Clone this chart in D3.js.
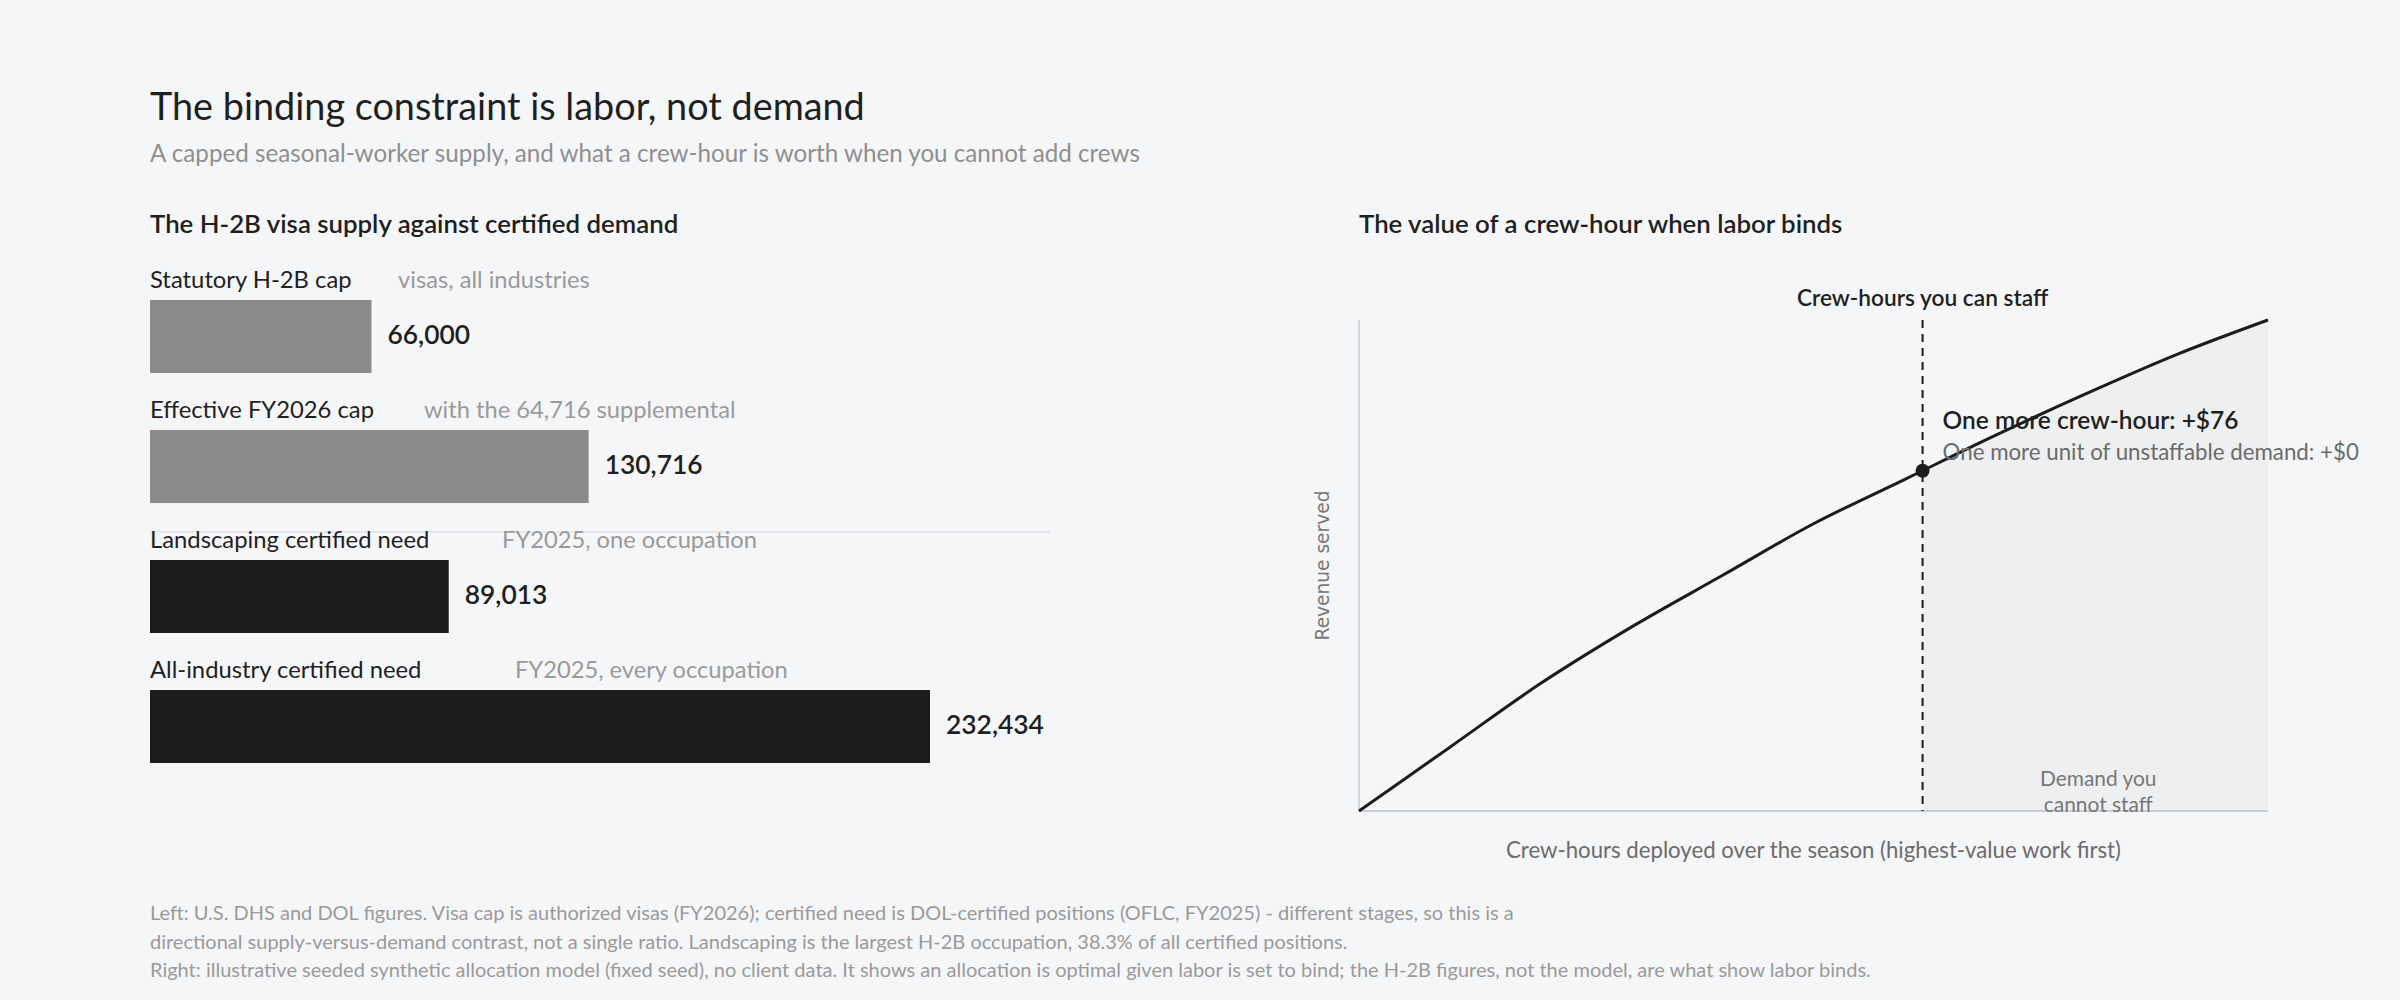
<!DOCTYPE html>
<html>
<head>
<meta charset="utf-8">
<script src="https://cdn.jsdelivr.net/npm/d3@7"></script>
<style>
  body { margin: 0; background: #f5f6f8; }
  svg { display: block; font-family: "Segoe UI", Lato, "Noto Sans", sans-serif; }
</style>
</head>
<body>
<svg></svg>
<script>
let width = 2400, height = 1000;

// Left panel: H-2B supply vs certified demand
const rowLabels = ["Statutory H-2B cap", "Effective FY2026 cap", "Landscaping certified need", "All-industry certified need"];
const rowNotes = ["visas, all industries", "with the 64,716 supplemental", "FY2025, one occupation", "FY2025, every occupation"];
const rowValues = [66000, 130716, 89013, 232434];
const rowKinds = ["supply", "supply", "demand", "demand"];

// Right panel: revenue curve (illustrative model), crew-hours as % of season demand
const crewHours = [0, 10, 20, 30, 40, 50, 60, 70, 80, 90, 100];
const revenue = [0, 0.13, 0.26, 0.375, 0.48, 0.585, 0.675, 0.765, 0.85, 0.93, 1.0];
const staffableHours = 62;
const marginalCrewHour = 76;
const marginalDemand = 0;

const footnotes = [
    "Left: U.S. DHS and DOL figures. Visa cap is authorized visas (FY2026); certified need is DOL-certified positions (OFLC, FY2025) - different stages, so this is a",
    "directional supply-versus-demand contrast, not a single ratio. Landscaping is the largest H-2B occupation, 38.3% of all certified positions.",
    "Right: illustrative seeded synthetic allocation model (fixed seed), no client data. It shows an allocation is optimal given labor is set to bind; the H-2B figures, not the model, are what show labor binds."
];

let svg = d3.select("svg")
    .attr("width", width)
    .attr("height", height);

svg.append("rect").attr("width", width).attr("height", height).attr("fill", "#f5f6f8");

// headings
svg.append("text").attr("x", 150).attr("y", 120)
    .text("The binding constraint is labor, not demand")
    .style("font-size", "37.8px").attr("fill", "#1f1f1f");
svg.append("text").attr("x", 150).attr("y", 162)
    .text("A capped seasonal-worker supply, and what a crew-hour is worth when you cannot add crews")
    .style("font-size", "24.2px").attr("fill", "#8f8f8f");

svg.append("text").attr("x", 150).attr("y", 233)
    .text("The H-2B visa supply against certified demand")
    .style("font-size", "25.8px").style("font-weight", 600).attr("fill", "#1f1f1f");
svg.append("text").attr("x", 1359).attr("y", 233)
    .text("The value of a crew-hour when labor binds")
    .style("font-size", "25.8px").style("font-weight", 600).attr("fill", "#1f1f1f");

// ---- left bars ----
let x = d3.scaleLinear().domain([0, d3.max(rowValues)]).range([0, 780]);
let rowY = d3.scaleBand().domain(d3.range(rowLabels.length)).range([270, 790]).paddingInner(0);
let barColor = d3.scaleOrdinal().domain(["supply", "demand"]).range(["#8c8b89", "#1c1c1c"]);

// divider between supply and demand
svg.append("line")
    .attr("x1", 150).attr("x2", 1050)
    .attr("y1", 532).attr("y2", 532)
    .attr("stroke", "#e6e7ea").attr("stroke-width", 2);

let rows = svg.append("g").attr("id", "bars")
    .selectAll("g")
    .data(rowValues)
    .enter()
    .append("g")
    .attr("transform", (d, i) => `translate(150,${rowY(i)})`);

rows.append("text")
    .attr("y", 18)
    .text((d, i) => rowLabels[i])
    .style("font-size", "23.8px").attr("fill", "#1f1f1f");

rows.append("text")
    .attr("x", (d, i) => 13 * rowLabels[i].length + 14)
    .attr("y", 18)
    .text((d, i) => rowNotes[i])
    .style("font-size", "23.7px").attr("fill", "#9a9a9a");

rows.append("rect")
    .attr("y", 30)
    .attr("width", d => x(d))
    .attr("height", 73)
    .attr("fill", (d, i) => barColor(rowKinds[i]));

rows.append("text")
    .attr("x", d => x(d) + 16)
    .attr("y", 67)
    .attr("dominant-baseline", "middle")
    .text(d => d3.format(",")(d))
    .style("font-size", "26.4px").style("font-weight", 600).attr("fill", "#1f1f1f");

// ---- right curve ----
let xc = d3.scaleLinear().domain([0, 100]).range([1359, 2268]);
let yc = d3.scaleLinear().domain([0, 1]).range([811, 320]);
let pts = crewHours.map((h, i) => ({ h: h, r: revenue[i] }));
let revAt = h => {
    let i = d3.bisectRight(crewHours, h) - 1;
    let t = (h - crewHours[i]) / (crewHours[i + 1] - crewHours[i]);
    return revenue[i] + t * (revenue[i + 1] - revenue[i]);
};

let shadePts = [{ h: staffableHours, r: revAt(staffableHours) }].concat(pts.filter(p => p.h > staffableHours));
svg.append("path")
    .datum(shadePts)
    .attr("fill", "#eeeff1")
    .attr("d", d3.area().x(d => xc(d.h)).y0(yc(0)).y1(d => yc(d.r)).curve(d3.curveMonotoneX));

// axes (plain lines, no ticks)
svg.append("line").attr("x1", xc(0)).attr("x2", xc(0)).attr("y1", yc(1)).attr("y2", yc(0))
    .attr("stroke", "#c9ccd3").attr("stroke-width", 1.5);
svg.append("line").attr("x1", xc(0)).attr("x2", xc(100)).attr("y1", yc(0)).attr("y2", yc(0))
    .attr("stroke", "#c9ccd3").attr("stroke-width", 2);

svg.append("line")
    .attr("x1", xc(staffableHours)).attr("x2", xc(staffableHours))
    .attr("y1", yc(1)).attr("y2", yc(0))
    .attr("stroke", "#1c1c1c").attr("stroke-width", 2)
    .attr("stroke-dasharray", "8,6");

svg.append("path")
    .datum(pts)
    .attr("fill", "none")
    .attr("stroke", "#1c1c1c")
    .attr("stroke-width", 3)
    .attr("d", d3.line().x(d => xc(d.h)).y(d => yc(d.r)).curve(d3.curveMonotoneX));

svg.append("circle")
    .attr("cx", xc(staffableHours))
    .attr("cy", yc(revAt(staffableHours)))
    .attr("r", 7).attr("fill", "#1c1c1c");

svg.append("text")
    .attr("x", xc(staffableHours)).attr("y", 306)
    .attr("text-anchor", "middle")
    .text("Crew-hours you can staff")
    .style("font-size", "22.7px").style("font-weight", 600).attr("fill", "#1f1f1f");

svg.append("text")
    .attr("x", xc(staffableHours) + 20).attr("y", 429)
    .text("One more crew-hour: +$" + marginalCrewHour)
    .style("font-size", "24.5px").style("font-weight", 600).attr("fill", "#1f1f1f");
svg.append("text")
    .attr("x", xc(staffableHours) + 20).attr("y", 460)
    .text("One more unit of unstaffable demand: +$" + marginalDemand)
    .style("font-size", "22.3px").attr("fill", "#6b6b6b");

let demandX = (xc(staffableHours) + xc(100)) / 2 + 3;
svg.append("text").attr("x", demandX).attr("y", 786).attr("text-anchor", "middle")
    .text("Demand you").style("font-size", "20.9px").attr("fill", "#777");
svg.append("text").attr("x", demandX).attr("y", 812).attr("text-anchor", "middle")
    .text("cannot staff").style("font-size", "20.9px").attr("fill", "#777");

svg.append("text")
    .attr("x", (xc(0) + xc(100)) / 2).attr("y", 858)
    .attr("text-anchor", "middle")
    .text("Crew-hours deployed over the season (highest-value work first)")
    .style("font-size", "22.2px").attr("fill", "#6b6b6b");

svg.append("text")
    .attr("transform", `translate(1329,${(yc(0) + yc(1)) / 2}) rotate(-90)`)
    .attr("text-anchor", "middle")
    .text("Revenue served")
    .style("font-family", "'DejaVu Sans'")
    .style("font-size", "18.6px").attr("fill", "#777");

// footnotes
svg.append("g").selectAll("text")
    .data(footnotes)
    .enter()
    .append("text")
    .attr("x", 150)
    .attr("y", (d, i) => 920 + i * 28.5)
    .text(d => d)
    .style("font-size", "20px").attr("fill", "#9a9a9a");
</script>
</body>
</html>
